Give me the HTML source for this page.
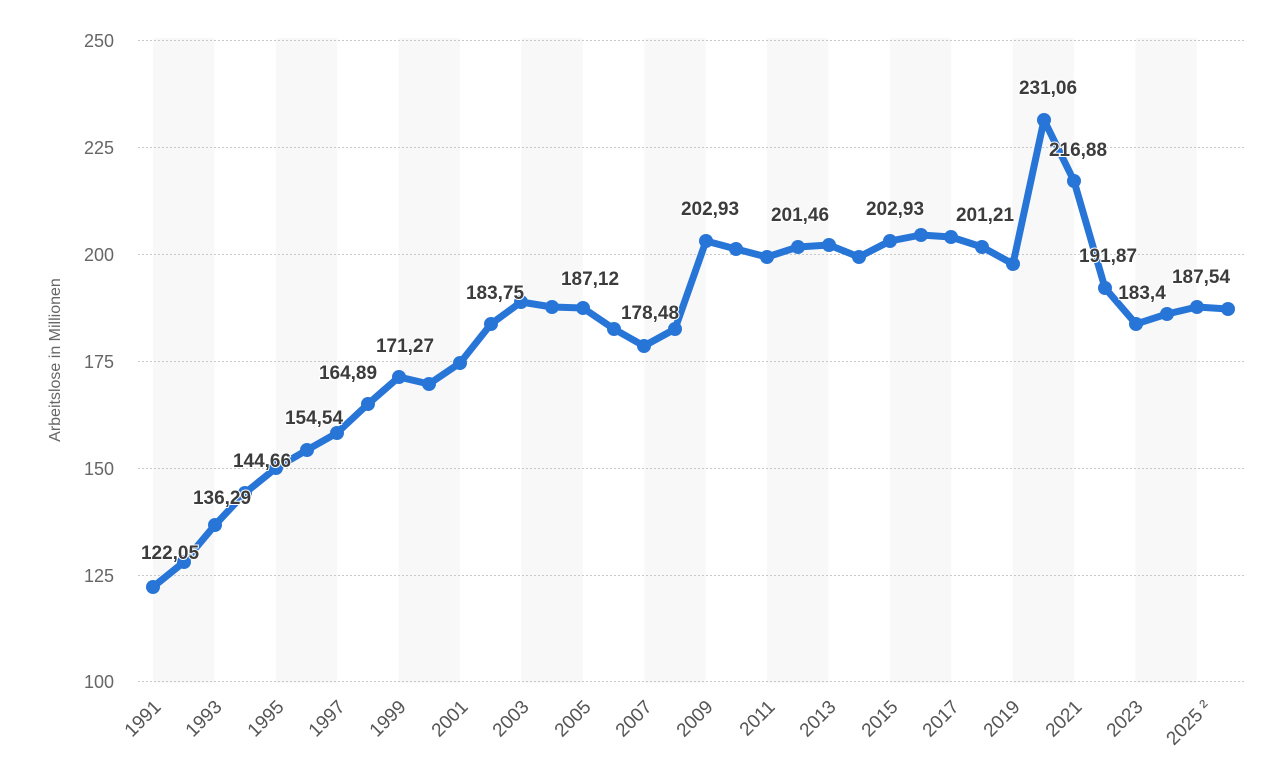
<!DOCTYPE html>
<html><head><meta charset="utf-8"><style>
html,body{margin:0;padding:0;background:#fff;}
svg{display:block;font-family:"Liberation Sans",Arial,sans-serif;}
</style></head><body>
<svg width="1274" height="768" xmlns="http://www.w3.org/2000/svg">
<g fill="#f8f8f8">
<rect x="153" y="38" width="61.4" height="645"/>
<rect x="275.8" y="38" width="61.4" height="645"/>
<rect x="398.6" y="38" width="61.4" height="645"/>
<rect x="521.4" y="38" width="61.4" height="645"/>
<rect x="644.2" y="38" width="61.4" height="645"/>
<rect x="767" y="38" width="61.4" height="645"/>
<rect x="889.8" y="38" width="61.4" height="645"/>
<rect x="1012.6" y="38" width="61.4" height="645"/>
<rect x="1135.4" y="38" width="61.4" height="645"/>
</g>
<g stroke="#c8c8c8" stroke-width="1" stroke-dasharray="2,2">
<line x1="138" x2="1245" y1="40.5" y2="40.5"/>
<line x1="138" x2="1245" y1="147.5" y2="147.5"/>
<line x1="138" x2="1245" y1="254.5" y2="254.5"/>
<line x1="138" x2="1245" y1="361.5" y2="361.5"/>
<line x1="138" x2="1245" y1="468.5" y2="468.5"/>
<line x1="138" x2="1245" y1="575.5" y2="575.5"/>
<line x1="138" x2="1245" y1="681.5" y2="681.5"/>
</g>
<g fill="#666" font-size="18" text-anchor="end">
<text x="114" y="47">250</text><text x="114" y="154">225</text><text x="114" y="261">200</text>
<text x="114" y="368">175</text><text x="114" y="475">150</text><text x="114" y="582">125</text><text x="114" y="688">100</text>
</g>
<text transform="translate(60,360) rotate(-90)" text-anchor="middle" fill="#666" font-size="16">Arbeitslose in Millionen</text>
<g fill="#555" font-size="19" text-anchor="end">
<text transform="translate(162,708) rotate(-45)">1991</text>
<text transform="translate(223,708) rotate(-45)">1993</text>
<text transform="translate(285,708) rotate(-45)">1995</text>
<text transform="translate(346,708) rotate(-45)">1997</text>
<text transform="translate(407,708) rotate(-45)">1999</text>
<text transform="translate(469,708) rotate(-45)">2001</text>
<text transform="translate(530,708) rotate(-45)">2003</text>
<text transform="translate(592,708) rotate(-45)">2005</text>
<text transform="translate(653,708) rotate(-45)">2007</text>
<text transform="translate(714,708) rotate(-45)">2009</text>
<text transform="translate(776,708) rotate(-45)">2011</text>
<text transform="translate(837,708) rotate(-45)">2013</text>
<text transform="translate(899,708) rotate(-45)">2015</text>
<text transform="translate(960,708) rotate(-45)">2017</text>
<text transform="translate(1021,708) rotate(-45)">2019</text>
<text transform="translate(1083,708) rotate(-45)">2021</text>
<text transform="translate(1144,708) rotate(-45)">2023</text>
<text transform="translate(1212,708) rotate(-45)">2025 ²</text>
</g>
<polyline fill="none" stroke="#2875d8" stroke-width="7" stroke-linejoin="round" points="153,587 184,562 215,525 245,493 276,468 307,450 337,433 368,404 399,377 429,384 460,363 491,324 521,302 552,307 583,308 614,329 644,346 675,329 706,241 736,249 767,257 798,247 829,245 859,257 890,241 921,235 951,237 982,247 1013,264 1044,120 1074,181 1105,288 1136,324 1167,314 1197,307 1228,309"/>
<g fill="#2875d8">
<circle cx="153" cy="587" r="7"/><circle cx="184" cy="562" r="7"/><circle cx="215" cy="525" r="7"/><circle cx="245" cy="493" r="7"/><circle cx="276" cy="468" r="7"/><circle cx="307" cy="450" r="7"/><circle cx="337" cy="433" r="7"/><circle cx="368" cy="404" r="7"/><circle cx="399" cy="377" r="7"/><circle cx="429" cy="384" r="7"/><circle cx="460" cy="363" r="7"/><circle cx="491" cy="324" r="7"/><circle cx="521" cy="302" r="7"/><circle cx="552" cy="307" r="7"/><circle cx="583" cy="308" r="7"/><circle cx="614" cy="329" r="7"/><circle cx="644" cy="346" r="7"/><circle cx="675" cy="329" r="7"/><circle cx="706" cy="241" r="7"/><circle cx="736" cy="249" r="7"/><circle cx="767" cy="257" r="7"/><circle cx="798" cy="247" r="7"/><circle cx="829" cy="245" r="7"/><circle cx="859" cy="257" r="7"/><circle cx="890" cy="241" r="7"/><circle cx="921" cy="235" r="7"/><circle cx="951" cy="237" r="7"/><circle cx="982" cy="247" r="7"/><circle cx="1013" cy="264" r="7"/><circle cx="1044" cy="120" r="7"/><circle cx="1074" cy="181" r="7"/><circle cx="1105" cy="288" r="7"/><circle cx="1136" cy="324" r="7"/><circle cx="1167" cy="314" r="7"/><circle cx="1197" cy="307" r="7"/><circle cx="1228" cy="309" r="7"/>
</g>
<g fill="#3c3c3c" font-size="19" font-weight="bold" text-anchor="middle" stroke="#fff" stroke-width="2" paint-order="stroke">
<text x="170" y="559">122,05</text>
<text x="222" y="504">136,29</text>
<text x="262" y="467">144,66</text>
<text x="314" y="424">154,54</text>
<text x="348" y="379">164,89</text>
<text x="405" y="352">171,27</text>
<text x="495" y="299">183,75</text>
<text x="590" y="285">187,12</text>
<text x="650" y="319">178,48</text>
<text x="710" y="215">202,93</text>
<text x="800" y="221">201,46</text>
<text x="895" y="215">202,93</text>
<text x="985" y="221">201,21</text>
<text x="1048" y="94">231,06</text>
<text x="1078" y="156">216,88</text>
<text x="1108" y="262">191,87</text>
<text x="1142" y="299">183,4</text>
<text x="1201" y="283">187,54</text>
</g>
</svg>
</body></html>
